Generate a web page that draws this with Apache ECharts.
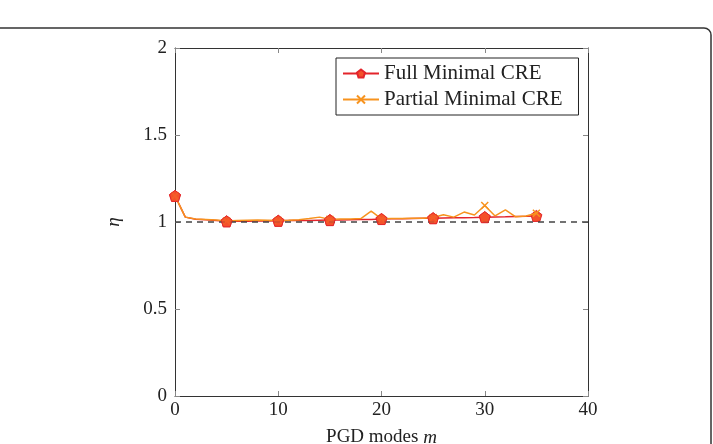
<!DOCTYPE html>
<html>
<head>
<meta charset="utf-8">
<script src="https://cdn.jsdelivr.net/npm/echarts@6/dist/echarts.min.js"></script>
<style>
  html, body { margin: 0; padding: 0; background: #fff; }
  #chart { width: 713px; height: 444px; }
</style>
</head>
<body>
<div id="chart"></div>
<script>
// PGD modes m
const modes = [
  0, 1, 2, 3, 4, 5, 6, 7, 8, 9, 10, 11, 12, 13, 14, 15, 16, 17,
  18, 19, 20, 21, 22, 23, 24, 25, 26, 27, 28, 29, 30, 31, 32, 33, 34, 35
];
const fullEta = [
  1.15, 1.028, 1.016, 1.013, 1.009, 1.004, 1.005, 1.005, 1.006, 1.006, 1.007, 1.008,
  1.008, 1.009, 1.01, 1.011, 1.012, 1.013, 1.014, 1.015, 1.017, 1.018, 1.019, 1.02,
  1.021, 1.022, 1.023, 1.024, 1.025, 1.026, 1.028, 1.029, 1.03, 1.032, 1.033, 1.035
];
const partialEta = [
  1.15, 1.028, 1.017, 1.015, 1.012, 1.006, 1.008, 1.01, 1.012, 1.01, 1.008, 1.01,
  1.013, 1.02, 1.028, 1.015, 1.017, 1.017, 1.02, 1.062, 1.018, 1.02, 1.02, 1.021,
  1.022, 1.026, 1.042, 1.028, 1.057, 1.04, 1.095, 1.035, 1.07, 1.03, 1.035, 1.05
];

const xTicks = [0, 10, 20, 30, 40];
const yTicks = [0, 0.5, 1, 1.5, 2];

const serif = '"Liberation Serif", "DejaVu Serif", serif';
const axisColor = '#333';

const pentagon = 'path://M0,-1 L0.951,-0.309 L0.588,0.809 L-0.588,0.809 L-0.951,-0.309 Z';
const cross = 'path://M-1,-1 L1,1 M1,-1 L-1,1';

const chart = echarts.init(document.getElementById('chart'));

const baseAxis = {
  type: 'value',
  axisLine: { show: true, onZero: false, lineStyle: { color: axisColor, width: 1 } },
  axisTick: { show: true, inside: true, length: 5, lineStyle: { color: '#888', width: 1 } },
  splitLine: { show: false }
};

// markers only every 5th mode
const everyFifth = (size) => (value, params) => (params.dataIndex % 5 === 0 ? size : 0);
const fullMarks = modes.map((m, i) => [m, fullEta[i]]).filter(d => d[0] % 5 === 0);

const fullStyle = { color: '#f4512a', borderColor: '#e3242b', borderWidth: 1 };

chart.setOption({
  animation: false,
  backgroundColor: '#fff',
  graphic: [{
    type: 'rect',
    silent: true,
    shape: { x: -20, y: 28, width: 731, height: 440, r: 7 },
    style: { fill: 'none', stroke: '#333', lineWidth: 1.5 }
  }],
  grid: { left: 175, top: 48, width: 413, height: 348, outerBoundsMode: 'none' },
  legend: {
    data: ['Full Minimal CRE', 'Partial Minimal CRE'],
    orient: 'vertical',
    left: 336,
    top: 58,
    padding: [5, 16, 5, 6],
    itemGap: 5,
    itemWidth: 36,
    itemHeight: 10,
    borderColor: '#222',
    borderWidth: 1,
    backgroundColor: '#fff',
    textStyle: { fontFamily: serif, fontSize: 21, color: '#222' }
  },
  xAxis: [
    Object.assign({}, baseAxis, {
      min: 0, max: 40, interval: 10,
      name: '{n|PGD modes }{i|m}',
      nameLocation: 'middle',
      nameGap: 32,
      nameTextStyle: {
        rich: {
          n: { fontFamily: serif, fontSize: 19, color: '#222' },
          i: { fontFamily: serif, fontSize: 19, fontStyle: 'italic', color: '#222' }
        }
      },
      axisLabel: {
        fontFamily: serif, fontSize: 19, color: '#222', margin: 5,
        formatter: v => xTicks.includes(v) ? String(v) : ''
      }
    }),
    Object.assign({}, baseAxis, {
      position: 'top', min: 0, max: 40, interval: 10,
      axisLabel: { show: false }
    })
  ],
  yAxis: [
    Object.assign({}, baseAxis, {
      min: 0, max: 2, interval: 0.5,
      name: 'η',
      nameLocation: 'middle',
      nameRotate: 90,
      nameGap: 52,
      nameTextStyle: { fontFamily: serif, fontSize: 19, fontStyle: 'italic', color: '#222' },
      axisLabel: {
        fontFamily: serif, fontSize: 19, color: '#222', margin: 8,
        formatter: v => yTicks.includes(v) ? String(v) : ''
      }
    }),
    Object.assign({}, baseAxis, {
      position: 'right', min: 0, max: 2, interval: 0.5,
      axisLabel: { show: false }
    })
  ],
  series: [
    {
      name: 'Full Minimal CRE',
      type: 'line',
      z: 3,
      data: modes.map((m, i) => [m, fullEta[i]]),
      showAllSymbol: true,
      symbol: pentagon,
      symbolSize: everyFifth(11),
      lineStyle: { color: '#e3242b', width: 1.5 },
      itemStyle: fullStyle,
      markLine: {
        silent: true,
        symbol: 'none',
        label: { show: false },
        lineStyle: { color: '#444', type: [6, 5], width: 1.5 },
        data: [{ yAxis: 1 }]
      }
    },
    {
      name: 'Partial Minimal CRE',
      type: 'line',
      z: 4,
      data: modes.map((m, i) => [m, partialEta[i]]),
      showAllSymbol: true,
      symbol: cross,
      symbolSize: everyFifth(7),
      lineStyle: { color: '#f7931e', width: 1.5 },
      itemStyle: { color: '#f7931e', borderColor: '#f7931e', borderWidth: 1.5 }
    },
    {
      // red markers drawn above the orange line
      name: 'full-marks',
      type: 'scatter',
      z: 5,
      data: fullMarks.slice(0, 7),
      symbol: pentagon,
      symbolSize: 11,
      itemStyle: fullStyle
    }
  ]
});
</script>
</body>
</html>
